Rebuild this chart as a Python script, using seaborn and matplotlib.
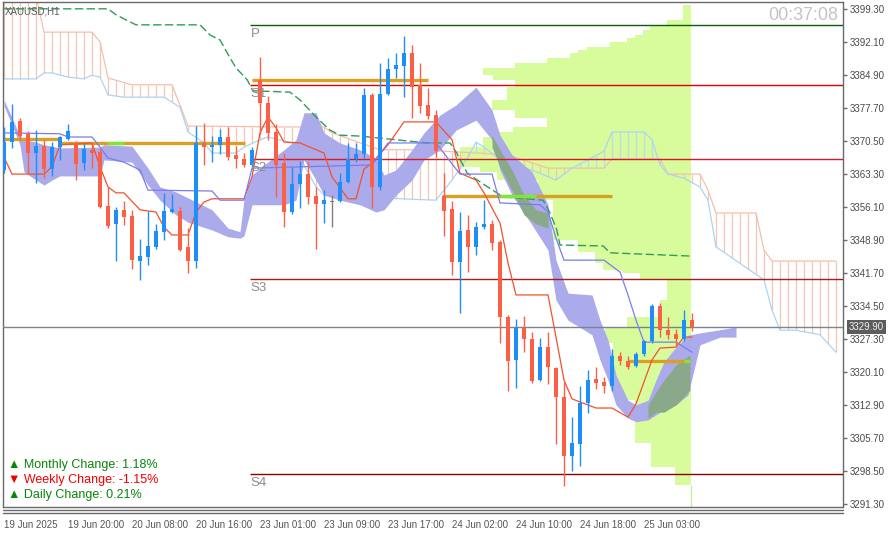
import numpy as np
import pandas as pd
import matplotlib
matplotlib.use("Agg")
import matplotlib.pyplot as plt
from matplotlib.lines import Line2D
import seaborn as sns

# ---- XAUUSD H1 candles (bar index 0..86) ----
opens = [3364.2, 3370.3, 3374.9, 3372.1, 3367.9, 3369.4, 3364.4, 3369.2, 3371.0, 3370.1,
         3365.7, 3368.6, 3368.1, 3356.3, 3352.4, 3355.5, 3354.2, 3344.3, 3345.2, 3347.4,
         3350.7, 3355.0, 3355.2, 3347.4, 3344.3, 3370.1, 3369.2, 3369.7, 3371.4, 3367.5,
         3366.6, 3365.3, 3383.9, 3378.8, 3372.5, 3365.7, 3355.0, 3361.1, 3363.3, 3358.5,
         3356.8, 3357.2, 3357.4, 3361.6, 3366.6, 3367.7, 3380.6, 3360.5, 3380.8, 3386.3,
         3386.9, 3389.8, 3382.8, 3378.4, 3376.2, 3358.5, 3355.7, 3344.1, 3351.1, 3347.4,
         3351.7, 3352.4, 3348.5, 3332.1, 3322.7, 3329.7, 3327.3, 3318.3, 3325.5, 3320.9,
         3314.6, 3301.7, 3304.3, 3313.3, 3318.5, 3317.9, 3317.0, 3323.6, 3322.5, 3321.4,
         3324.0, 3326.8, 3334.5, 3329.3, 3328.4, 3327.3, 3331.4]
highs = [3373.6, 3378.6, 3375.6, 3372.7, 3372.9, 3370.8, 3370.3, 3371.6, 3374.2, 3370.5,
         3370.1, 3370.1, 3368.8, 3360.5, 3356.1, 3357.4, 3355.5, 3349.1, 3355.2, 3352.4,
         3359.2, 3359.0, 3356.1, 3351.5, 3373.8, 3374.5, 3371.6, 3373.2, 3373.6, 3369.5,
         3368.0, 3369.2, 3388.9, 3380.4, 3374.2, 3367.9, 3364.9, 3366.2, 3365.9, 3360.5,
         3359.8, 3358.7, 3363.5, 3370.1, 3370.1, 3382.1, 3381.0, 3387.6, 3388.7, 3389.8,
         3393.5, 3391.5, 3387.6, 3382.1, 3377.3, 3363.5, 3357.4, 3355.0, 3354.4, 3352.8,
         3357.6, 3353.3, 3348.9, 3332.5, 3331.7, 3332.3, 3328.8, 3327.5, 3328.8, 3321.2,
         3317.9, 3310.2, 3317.0, 3320.5, 3321.2, 3319.0, 3325.1, 3324.4, 3323.6, 3324.4,
         3327.1, 3334.9, 3335.1, 3332.1, 3329.5, 3333.6, 3333.0]
lows = [3363.5, 3369.0, 3370.8, 3363.5, 3361.4, 3362.5, 3362.9, 3366.4, 3370.8, 3362.0,
        3364.2, 3364.6, 3356.0, 3351.5, 3344.3, 3352.2, 3342.6, 3340.2, 3343.4, 3346.9,
        3348.9, 3354.8, 3346.5, 3341.7, 3342.8, 3365.3, 3365.9, 3367.7, 3366.4, 3364.6,
        3364.9, 3364.9, 3372.1, 3370.8, 3358.3, 3351.7, 3354.6, 3355.9, 3356.8, 3346.9,
        3352.6, 3351.7, 3357.2, 3361.4, 3365.9, 3366.8, 3355.9, 3359.8, 3380.6, 3384.3,
        3380.1, 3375.6, 3376.7, 3375.3, 3367.0, 3349.8, 3341.3, 3333.0, 3341.9, 3345.6,
        3351.3, 3346.7, 3326.4, 3315.9, 3316.6, 3324.4, 3317.7, 3318.1, 3317.5, 3304.3,
        3295.2, 3298.5, 3299.5, 3311.1, 3316.4, 3315.5, 3315.9, 3321.6, 3320.7, 3321.2,
        3323.6, 3326.4, 3327.7, 3327.3, 3325.8, 3326.8, 3329.0]
closes = [3370.3, 3374.7, 3371.6, 3367.9, 3369.4, 3364.4, 3369.2, 3371.4, 3372.7, 3365.5,
          3368.8, 3367.9, 3356.1, 3352.0, 3355.5, 3353.9, 3344.5, 3345.4, 3347.6, 3350.9,
          3355.2, 3355.7, 3346.7, 3344.3, 3370.1, 3369.2, 3369.7, 3371.4, 3367.0, 3366.6,
          3365.3, 3368.6, 3378.8, 3372.3, 3365.3, 3355.0, 3361.1, 3363.3, 3358.3, 3356.8,
          3357.6, 3357.2, 3361.6, 3366.6, 3367.7, 3380.6, 3360.5, 3380.8, 3386.3, 3387.1,
          3389.8, 3382.3, 3378.2, 3376.0, 3368.4, 3355.2, 3344.1, 3350.9, 3347.4, 3351.7,
          3352.4, 3348.3, 3332.1, 3322.5, 3329.7, 3327.3, 3318.1, 3325.5, 3321.2, 3314.6,
          3301.7, 3304.6, 3313.3, 3318.3, 3317.7, 3317.0, 3323.6, 3322.5, 3321.2, 3324.0,
          3326.8, 3334.5, 3329.3, 3328.2, 3327.3, 3331.4, 3329.9]
last_price = 3329.90

time_labels = ["19 Jun 2025", "19 Jun 20:00", "20 Jun 08:00", "20 Jun 16:00", "23 Jun 01:00",
               "23 Jun 09:00", "23 Jun 17:00", "24 Jun 02:00", "24 Jun 10:00", "24 Jun 18:00",
               "25 Jun 03:00"]
time_label_bars = [0, 8, 16, 24, 32, 40, 48, 56, 64, 72, 80]
price_ticks = [3291.30, 3298.50, 3305.70, 3312.90, 3320.10, 3327.30, 3334.50, 3341.70,
               3348.90, 3356.10, 3363.30, 3370.50, 3377.70, 3384.90, 3392.10, 3399.30]

# ---- ichimoku lines (read at turning points) ----
tenkan_bars = [0, 1, 5, 6, 7, 11, 12, 13, 14, 15, 17, 19, 20, 21, 23, 24, 25, 26, 30, 31,
               32, 33, 34, 35, 37, 40, 41, 43, 44, 45, 46, 48, 50, 54, 56, 57, 59, 60, 62, 63,
               64, 68, 69, 70, 71, 74, 76, 78, 79, 81, 82, 84, 85, 86]
tenkan_vals = [3367.0, 3363.3, 3363.3, 3364.9, 3369.7, 3370.1, 3364.9, 3360.5, 3359.2, 3359.2,
               3355.5, 3355.0, 3351.7, 3350.0, 3350.0, 3355.0, 3357.2, 3357.9, 3357.9, 3362.7,
               3372.3, 3375.8, 3373.4, 3370.3, 3370.1, 3367.9, 3362.7, 3357.9, 3357.9, 3364.4,
               3365.7, 3369.7, 3374.7, 3374.7, 3370.8, 3363.5, 3362.0, 3359.2, 3352.6, 3343.9,
               3336.9, 3336.9, 3327.7, 3318.3, 3314.2, 3312.2, 3312.2, 3310.2, 3313.1, 3322.7,
               3325.3, 3325.5, 3327.7, 3327.7]
kijun_bars = [0, 7, 8, 11, 12, 13, 15, 17, 18, 26, 27, 30, 31, 46, 48, 54, 57, 61, 62, 67,
              68, 69, 70, 75, 77, 78, 79, 80, 84, 86]
kijun_vals = [3372.3, 3372.1, 3371.4, 3371.4, 3369.2, 3366.8, 3365.9, 3364.2, 3359.8, 3359.6,
              3357.6, 3357.6, 3364.6, 3365.3, 3370.1, 3370.1, 3363.3, 3363.3, 3357.0, 3356.6,
              3355.0, 3349.3, 3344.5, 3344.5, 3341.9, 3336.9, 3331.4, 3326.6, 3326.6, 3324.4]
span_a_bars = [0, 4, 5, 11, 12, 13, 16, 21, 23, 34, 40, 41, 47, 52, 57, 63, 68, 75, 76, 82,
               83, 87, 88, 89, 94, 95, 96, 104]
span_a_vals = [3402.4, 3402.4, 3394.3, 3394.3, 3392.2, 3384.3, 3382.8, 3382.8, 3373.8, 3373.6,
               3373.6, 3372.3, 3368.6, 3368.6, 3368.1, 3367.5, 3364.6, 3364.6, 3366.6, 3366.6,
               3363.3, 3363.3, 3359.8, 3354.8, 3354.8, 3346.7, 3344.3, 3344.3]
span_b_bars = [0, 4, 5, 6, 8, 10, 11, 12, 13, 15, 20, 22, 23, 25, 26, 29, 30, 32, 33, 36,
               39, 40, 43, 47, 54, 56, 58, 59, 60, 62, 64, 66, 69, 71, 73, 75, 76, 80, 81, 82,
               83, 85, 87, 88, 89, 95, 96, 97, 99, 102, 104]
span_b_vals = [3384.1, 3384.1, 3385.4, 3385.4, 3384.5, 3384.1, 3384.9, 3384.5, 3380.6, 3380.1,
               3380.1, 3377.9, 3372.5, 3370.1, 3367.9, 3367.9, 3369.2, 3370.8, 3371.4, 3370.1,
               3360.5, 3358.7, 3358.3, 3358.1, 3357.6, 3362.0, 3367.0, 3370.3, 3369.2, 3366.4,
               3364.9, 3364.2, 3362.0, 3364.6, 3366.4, 3368.3, 3372.5, 3372.5, 3370.8, 3365.3,
               3363.3, 3362.4, 3360.5, 3357.6, 3347.4, 3340.2, 3333.6, 3329.2, 3329.2, 3328.2,
               3324.4]
lag_bars = [0, 13, 14, 16.5, 24.5, 25.75, 27, 28.25, 29, 30.4, 31.1, 35.75, 37, 38.5, 39.1,
            40.75, 42, 44.5, 52.9, 55.75, 56.6, 57.9, 60.1, 62.4, 67.4, 68.25, 69.1, 69.5,
            74.9, 75.75, 85.75]
lag_vals = [3399.4, 3399.4, 3398.1, 3395.9, 3395.9, 3393.7, 3392.6, 3388.7, 3386.5, 3383.9,
            3381.5, 3381.2, 3379.5, 3376.7, 3375.6, 3372.9, 3371.8, 3371.6, 3370.1, 3370.1,
            3367.9, 3363.5, 3360.9, 3358.3, 3357.6, 3354.8, 3351.1, 3347.8, 3347.6, 3346.1,
            3345.4]

# ---- lavender cloud band ----
band_bars = [0, 1, 2, 2.5, 4, 5, 6, 7, 12, 12.5, 16, 18, 19.5, 21.5, 23, 26, 28, 29.5, 30, 31,
             32.5, 35, 36.5, 37.5, 39, 40, 42, 44.5, 46.5, 47.5, 49, 51, 52.5, 54.5, 56.5, 59,
             61, 62, 63.5, 66, 68, 69, 70.5, 73.5, 74.5, 75.5, 76.5, 78, 79, 80.5, 81.5, 82.5,
             84, 85.5, 87, 89.5, 91.5]
band_top = [3379.5, 3375.6, 3371.6, 3370.8, 3370.3, 3369.7, 3369.4, 3369.0, 3369.2, 3369.7,
            3369.4, 3364.6, 3360.5, 3359.4, 3358.1, 3355.5, 3351.5, 3350.7, 3357.6, 3363.1,
            3365.3, 3368.6, 3370.8, 3376.7, 3376.7, 3372.3, 3370.1, 3368.6, 3366.8, 3363.1,
            3364.2, 3368.6, 3372.3, 3376.2, 3378.4, 3382.3, 3377.3, 3371.8, 3367.5, 3363.8,
            3356.6, 3344.5, 3337.3, 3336.9, 3331.4, 3327.1, 3319.4, 3313.9, 3312.9, 3313.9,
            3318.3, 3322.3, 3325.5, 3328.1, 3328.6, 3329.3, 3329.9]
band_bottom = [3378.2, 3374.0, 3369.7, 3363.8, 3362.0, 3360.9, 3362.0, 3362.9, 3362.9, 3366.4,
               3365.9, 3360.9, 3357.6, 3354.4, 3352.8, 3351.1, 3349.6, 3349.3, 3349.8, 3356.6,
               3356.6, 3356.6, 3357.6, 3366.4, 3362.0, 3358.7, 3357.6, 3356.6, 3355.0, 3355.5,
               3358.7, 3362.0, 3366.4, 3368.6, 3372.9, 3375.1, 3370.8, 3364.2, 3358.7, 3352.2,
               3346.7, 3335.8, 3331.4, 3328.2, 3322.7, 3318.3, 3312.9, 3310.0, 3309.2, 3309.6,
               3310.7, 3311.8, 3312.9, 3315.1, 3326.0, 3327.7, 3327.7]
dark1_bars = [61, 62, 63.5, 65, 66.5, 68]
dark1_top = [3371.8, 3368.6, 3364.2, 3358.7, 3355.5, 3354.8]
dark1_bottom = [3369.2, 3364.9, 3359.8, 3354.4, 3352.4, 3351.5]
dark2_bars = [80.5, 81.5, 82.5, 84, 85.75]
dark2_top = [3312.9, 3315.7, 3318.3, 3321.6, 3323.8]
dark2_bottom = [3310.0, 3311.3, 3311.3, 3312.9, 3316.1]

# ---- volume profile ----
profile_edges = [3400.2, 3397.0, 3395.9, 3394.8, 3393.7, 3393.0, 3392.2, 3391.1, 3390.4, 3389.8,
                 3388.7, 3387.6, 3386.5, 3385.0, 3383.9, 3382.3, 3379.5, 3377.3, 3375.6, 3373.6,
                 3372.5, 3371.4, 3369.2, 3367.5, 3364.9, 3363.8, 3362.0, 3357.6, 3348.9, 3346.3,
                 3343.9, 3342.4, 3341.7, 3340.2, 3335.8, 3332.1, 3329.9, 3326.4, 3322.0, 3316.1,
                 3314.0, 3304.6, 3299.3, 3295.3]
profile_volume = [1.0, 3.0, 5.1, 6.0, 7.0, 8.0, 10.1, 13.0, 14.1, 15.1, 18.0, 22.0, 26.0, 24.8,
                  22.0, 23.0, 24.9, 22.0, 18.0, 22.3, 24.9, 26.0, 28.9, 29.3, 26.4, 24.3, 19.1,
                  17.3, 14.1, 12.0, 11.0, 8.6, 6.4, 3.0, 3.9, 8.0, 10.8, 9.8, 9.8, 8.9, 7.0, 5.0,
                  2.0]
profile_anchor = 85.9

# ---- levels ----
level_start = [0, 7, 31, 54.75, 78]
level_end = [7, 30.1, 53, 76, 85.75]
level_price = [3371.0, 3370.0, 3383.9, 3358.5, 3322.5]
hl_start = [13, 62, 85]
hl_end = [15, 66.5, 85.75]
hl_price = [3370.0, 3358.5, 3322.5]
pivot_names = ["P", "S1", "S2", "S3", "S4"]
pivot_levels = [3395.9, 3382.7, 3366.5, 3340.4, 3297.8]
pivot_colors = ["#0b5d0b", "#e00000", "#d11a2a", "#a81c1c", "#8b0000"]
pivot_start = 30.75

change_texts = ["\u25B2 Monthly Change: 1.18%", "\u25BC Weekly Change: -1.15%",
                "\u25B2 Daily Change: 0.21%"]
change_colors = ["#0a840a", "#f00000", "#0a840a"]

sns.set_style("white")
plt.rcParams["font.family"] = ["Liberation Sans", "DejaVu Sans"]

W, H = 889, 534
fig = plt.figure(figsize=(W / 100, H / 100), dpi=100)
ax = fig.add_axes([3 / W, (H - 507) / H, 840 / W, 505 / H])
ax.set_xlim(-0.125, 104.875)
ax.set_ylim(3290.58, 3400.89)

# volume profile
edges = np.array(profile_edges)
centers = (edges[:-1] + edges[1:]) / 2
heights = edges[:-1] - edges[1:]
ax.barh(centers, -np.array(profile_volume), left=profile_anchor, height=heights,
        color="#d8fc9c", linewidth=0, zorder=1)
ax.vlines(profile_anchor, 3290.58, profile_edges[-1], color="#cdeea0", lw=1, zorder=1)

# ichimoku cloud hatching
hb = np.arange(0, 105)
a_at = np.interp(hb, span_a_bars, span_a_vals)
b_at = np.interp(hb, span_b_bars, span_b_vals)
hcol = ["#f3c6b4" if a >= b else "#b8dbf6" for a, b in zip(a_at, b_at)]
ax.vlines(hb, np.minimum(a_at, b_at), np.maximum(a_at, b_at), colors=hcol, lw=0.9, zorder=2)
sns.lineplot(x=span_a_bars, y=span_a_vals, ax=ax, color="#f2c0ac", lw=0.9,
             estimator=None, sort=False, zorder=2)
sns.lineplot(x=span_b_bars, y=span_b_vals, ax=ax, color="#acd4f4", lw=0.9,
             estimator=None, sort=False, zorder=2)

# lavender band
ax.fill_between(band_bars, band_bottom, band_top, color="#abaaeb", lw=0, zorder=3)
ax.fill_between(dark1_bars, dark1_bottom, dark1_top, color="#8aa98a", lw=0, zorder=3)
ax.fill_between(dark2_bars, dark2_bottom, dark2_top, color="#8aa98a", lw=0, zorder=3)

# dashed green line
ax.plot(lag_bars, lag_vals, color="#2f9d58", lw=1, ls=(0, (6, 2.5)), zorder=3.5)

# pivots and current price
ax.hlines(pivot_levels, pivot_start, 104.875, colors=pivot_colors, lw=1, zorder=4)
for name, lv in zip(pivot_names, pivot_levels):
    ax.annotate(name, (pivot_start + 0.1, lv), xytext=(0, -2), textcoords="offset points",
                ha="left", va="top", color="#8c8c8c", fontsize=9.5, zorder=8)
ax.axhline(last_price, color="#7c858f", lw=1, zorder=4)

# thick level lines
ax.hlines(level_price, level_start, level_end, color="#d9a024", lw=2.4, zorder=5)
ax.hlines(hl_price, hl_start, hl_end, color="#7ee83a", lw=2.4, zorder=5)

# tenkan / kijun
sns.lineplot(x=tenkan_bars, y=tenkan_vals, ax=ax, color="#f4502c", lw=0.9,
             estimator=None, sort=False, zorder=6)
sns.lineplot(x=kijun_bars, y=kijun_vals, ax=ax, color="#7b7bf2", lw=0.9,
             estimator=None, sort=False, zorder=6)

# candles
o = np.array(opens); c = np.array(closes)
bars = np.arange(len(opens))
cols = np.where(c > o, "#1e8ffa", np.where(c < o, "#fb6047", "#808080"))
ax.vlines(bars, lows, highs, colors=cols, lw=1, zorder=7)
body = np.maximum(np.abs(c - o), 0.2)
ax.bar(bars, body, bottom=np.minimum(o, c), width=0.62, color=cols, lw=0, zorder=7)

# axes styling
for s in ax.spines.values():
    s.set_color("#6a6a6a")
    s.set_linewidth(1)
ax.spines["bottom"].set_position(("outward", 4.3))
ax.yaxis.tick_right()
ax.set_yticks(price_ticks)
ax.set_yticklabels([f"{v:.2f}" for v in price_ticks])
ax.tick_params(axis="y", length=3, width=1, color="#6a6a6a", labelcolor="#4a4a4a",
               labelsize=7, pad=2)
ax.set_xticks(time_label_bars)
ax.set_xticklabels(time_labels, ha="left")
ax.tick_params(axis="x", length=3, width=1, color="#6a6a6a", labelcolor="#555555",
               labelsize=7, pad=2)
ax.set_xlabel("")
ax.set_ylabel("")
fig.add_artist(Line2D([3 / W, 843 / W], [1 - 507 / H] * 2, color="#6a6a6a", lw=1))
fig.add_artist(Line2D([3 / W, 843 / W], [1 - 509.5 / H] * 2, color="#6a6a6a", lw=1))

ax.annotate(f"{last_price:.2f}", xy=(1, last_price), xycoords=("axes fraction", "data"),
            xytext=(4, 0), textcoords="offset points", ha="left", va="center",
            fontsize=7, color="#f0f0f0",
            bbox=dict(boxstyle="square,pad=0.2", fc="#5c5c5c", ec="none"), zorder=9)

fig.text(5 / W, 1 - 11 / H, "XAUUSD,H1", fontsize=7, color="#5a5a5a", va="center")
fig.text(838 / W, 1 - 15 / H, "00:37:08", fontsize=13, color="#c4c4c4",
         ha="right", va="center")
for k, (t, col) in enumerate(zip(change_texts, change_colors)):
    fig.text(8 / W, 1 - (465 + 15 * k) / H, t, fontsize=9, color=col, va="center")

fig.savefig("out.png", dpi=100, facecolor="white")
